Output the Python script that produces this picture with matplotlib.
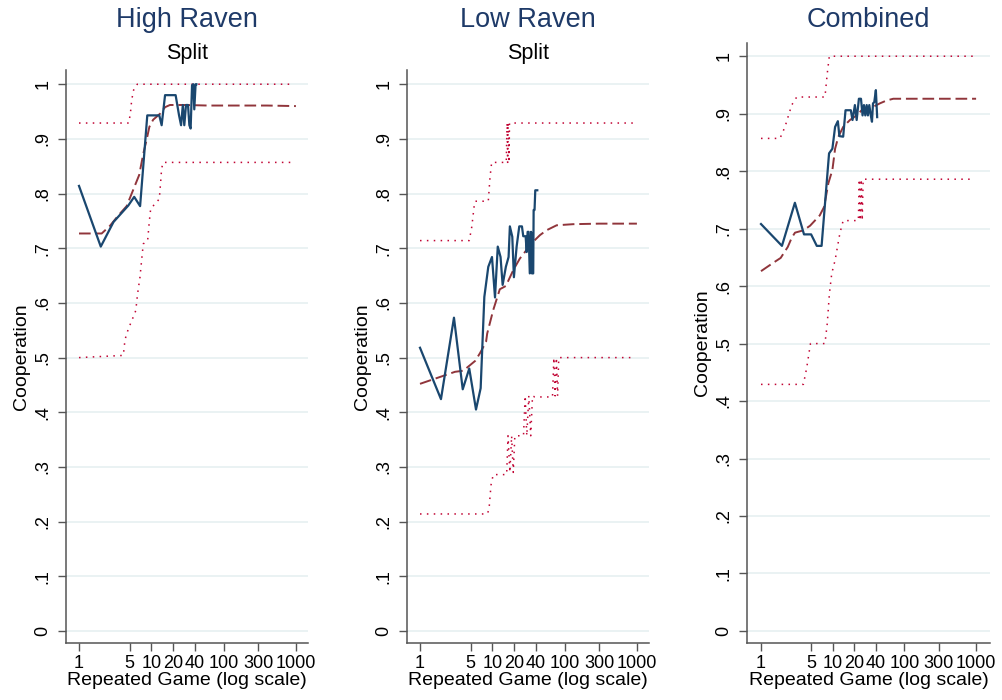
import numpy as np
import matplotlib.pyplot as plt

plt.rcParams['font.family'] = ['Liberation Sans', 'DejaVu Sans']

# ---- data ----
xticks = [1, 5, 10, 20, 40, 100, 300, 1000]
xtick_labels = ['1', '5', '10', '20', '40', '100', '300', '1000']
yticks = [0, .1, .2, .3, .4, .5, .6, .7, .8, .9, 1]
ytick_labels = ['0', '.1', '.2', '.3', '.4', '.5', '.6', '.7', '.8', '.9', '1']

# High Raven
hr_obs_x = [1, 2, 3, 4.8, 5.8, 7, 8.8, 12.9, 13.9, 15.5, 21.7, 24.2, 25.8, 27.3,
            28.6, 30.2, 32.2, 33.6, 35, 36.6, 38.1, 39.3, 41, 42]
hr_obs_y = [0.814, 0.703, 0.748, 0.778, 0.794, 0.777, 0.943, 0.943, 0.925, 0.980,
            0.980, 0.943, 0.925, 0.962, 0.925, 0.962, 0.962, 0.925, 0.919, 0.998,
            1.0, 0.954, 1.0, 1.0]
hr_fit_x = [1, 1.6, 2.06, 2.68, 3.5, 4.56, 5.95, 6.8, 7.75, 8.6, 9.4, 10.6, 13.2,
            15.5, 18.1, 30, 60, 150, 400, 1000]
hr_fit_y = [0.727, 0.727, 0.727, 0.741, 0.76, 0.777, 0.815, 0.834, 0.873, 0.898,
            0.922, 0.935, 0.946, 0.958, 0.962, 0.962, 0.961, 0.961, 0.961, 0.960]
hr_hi_x = [1, 4.9, 5.2, 5.35, 5.75, 6.4, 950]
hr_hi_y = [0.929, 0.929, 0.953, 0.971, 0.992, 1.0, 1.0]
hr_lo_x = [1, 4.1, 4.33, 4.8, 5.5, 6.1, 6.45, 6.97, 7.5, 7.75, 8.9, 9.4, 9.8, 11.2,
           12.9, 13.5, 13.9, 14.6, 950]
hr_lo_y = [0.5, 0.504, 0.533, 0.552, 0.571, 0.586, 0.616, 0.647, 0.690, 0.708,
           0.714, 0.75, 0.772, 0.781, 0.790, 0.823, 0.846, 0.857, 0.857]

# Low Raven
lr_obs_x = [1, 1.95, 2.95, 3.9, 4.8, 5.95, 6.9, 7.76, 8.8, 9.9, 10.9, 11.9, 13.0,
            13.9, 15.4, 16.8, 17.5, 18.9, 19.9, 21.7, 23.6, 25.7, 26.8, 28.9, 29.9,
            30.8, 31.8, 33, 34.4, 35.3, 36.8, 37.3, 38.4, 39.3, 41.9]
lr_obs_y = [0.518, 0.424, 0.573, 0.442, 0.480, 0.405, 0.444, 0.611, 0.666, 0.684,
            0.610, 0.703, 0.684, 0.633, 0.666, 0.684, 0.740, 0.721, 0.647, 0.703,
            0.740, 0.740, 0.722, 0.722, 0.693, 0.730, 0.730, 0.654, 0.730, 0.654,
            0.654, 0.770, 0.770, 0.806, 0.806]
lr_fit_x = [1, 3.05, 3.97, 5.8, 6.75, 8.2, 8.5, 10.3, 12.7, 15.4, 19.5, 24, 29.8,
            36.8, 45.6, 56.5, 77.6, 131, 300, 1000]
lr_fit_y = [0.452, 0.474, 0.476, 0.494, 0.508, 0.529, 0.544, 0.587, 0.625, 0.631,
            0.660, 0.681, 0.697, 0.712, 0.724, 0.733, 0.742, 0.744, 0.745, 0.745]
lr_hi_x = [1, 4.8, 5.2, 5.6, 5.8, 8.8, 9.3, 9.8, 15.6, 16.0, 16.3, 16.6, 17.0,
           17.3, 950]
lr_hi_y = [0.714, 0.714, 0.739, 0.776, 0.786, 0.786, 0.83, 0.857, 0.857, 0.929,
           0.857, 0.929, 0.857, 0.929, 0.929]
lr_lo_x = [1, 8.5, 9.0, 9.3, 9.6, 10.3, 15.8, 16.5, 17.5, 18.5, 19.5, 20.5, 21.5,
           27, 28.5, 30, 32, 34, 36, 38.7, 68, 71, 74, 77, 80, 83, 950]
lr_lo_y = [0.214, 0.214, 0.222, 0.245, 0.267, 0.286, 0.286, 0.357, 0.29, 0.357,
           0.29, 0.357, 0.357, 0.357, 0.43, 0.357, 0.43, 0.357, 0.43, 0.428, 0.428,
           0.5, 0.43, 0.5, 0.43, 0.5, 0.5]

# Combined
cb_obs_x = [1, 1.96, 2.97, 3.98, 5.0, 6.0, 7.0, 8.9, 9.9, 10.8, 11.8, 12.4, 14.0,
            15.1, 17.9, 18.9, 20.4, 21.6, 23.2, 24.8, 26.1, 27.3, 28.5, 29.8, 31,
            32.4, 34, 35.3, 36.5, 38, 40, 41.7]
cb_obs_y = [0.708, 0.670, 0.745, 0.690, 0.690, 0.670, 0.670, 0.831, 0.839, 0.877,
            0.887, 0.861, 0.860, 0.906, 0.906, 0.889, 0.915, 0.889, 0.926, 0.926,
            0.897, 0.915, 0.897, 0.915, 0.897, 0.915, 0.897, 0.886, 0.918, 0.92,
            0.941, 0.894]
cb_fit_x = [1, 1.46, 1.88, 2.36, 2.68, 2.98, 3.9, 4.83, 6.6, 7.6, 8.7, 9.9, 10.8,
            12.0, 14.0, 17.4, 21.6, 26.7, 36.8, 45.6, 56.5, 70, 150, 400, 1000]
cb_fit_y = [0.626, 0.640, 0.649, 0.668, 0.684, 0.693, 0.697, 0.705, 0.723, 0.738,
            0.779, 0.802, 0.839, 0.860, 0.877, 0.889, 0.897, 0.909, 0.912, 0.918,
            0.923, 0.926, 0.926, 0.926, 0.926]
cb_hi_x = [1, 1.84, 2.16, 2.68, 3.15, 7.8, 8.4, 8.97, 950]
cb_hi_y = [0.857, 0.857, 0.877, 0.915, 0.929, 0.929, 0.97, 1.0, 1.0]
cb_lo_x = [1, 3.9, 4.33, 4.9, 7.8, 8.4, 9.0, 9.7, 10.8, 12.6, 14.0, 22.8, 23.5,
           24.2, 25, 25.8, 26.6, 27.5, 950]
cb_lo_y = [0.429, 0.429, 0.457, 0.5, 0.5, 0.535, 0.587, 0.622, 0.645, 0.692, 0.714,
           0.714, 0.786, 0.714, 0.786, 0.714, 0.786, 0.786, 0.786]

W, H = 1003, 700
NAVY = '#1a476f'
MAROON = '#90353b'
CRAN = '#c10534'
TITLE_C = '#1e3a68'

fig = plt.figure(figsize=(W / 100, H / 100), dpi=100)


def make_axes(left, right, top, bottom, ylo, yhi, xlo, xhi):
    ax = fig.add_axes([left / W, 1 - bottom / H, (right - left) / W, (bottom - top) / H])
    ax.set_xscale('log')
    ax.set_xlim(xlo, xhi)
    ax.set_ylim(ylo, yhi)
    for s in ['top', 'right']:
        ax.spines[s].set_visible(False)
    for s in ['left', 'bottom']:
        ax.spines[s].set_color('#555555')
        ax.spines[s].set_linewidth(1.1)
    ax.set_xticks(xticks, xtick_labels, fontsize=13)
    ax.xaxis.set_minor_locator(plt.NullLocator())
    ax.set_yticks(yticks, ytick_labels, fontsize=13, rotation=90, va='center')
    ax.tick_params(length=5.5, width=1, color='#555555', pad=3)
    ax.tick_params(axis='y', pad=5)
    ax.grid(axis='y', color='#eaf2f3', lw=1.4)
    ax.set_axisbelow(True)
    ax.set_xlabel('Repeated Game (log scale)', fontsize=14, labelpad=0)
    ax.set_ylabel('Cooperation', fontsize=14, labelpad=3)
    return ax


def draw(ax, ox, oy, fx, fy, hx, hy, lx, ly):
    ax.plot(hx, hy, color=CRAN, lw=1.1, ls=(0, (1, 3.5)))
    ax.plot(lx, ly, color=CRAN, lw=1.1, ls=(0, (1, 3.5)))
    ax.plot(fx, fy, color=MAROON, lw=1.4, ls=(0, (6, 2.5)))
    ax.plot(ox, oy, color=NAVY, lw=1.6)


ax1 = make_axes(66, 308, 70, 643, -0.022, 1.026, 0.661, 1470)
draw(ax1, hr_obs_x, hr_obs_y, hr_fit_x, hr_fit_y, hr_hi_x, hr_hi_y, hr_lo_x, hr_lo_y)

ax2 = make_axes(407, 649, 70, 643, -0.022, 1.026, 0.661, 1470)
draw(ax2, lr_obs_x, lr_obs_y, lr_fit_x, lr_fit_y, lr_hi_x, lr_hi_y, lr_lo_x, lr_lo_y)

ax3 = make_axes(747, 990, 43, 643, -0.021, 1.023, 0.638, 1563)
draw(ax3, cb_obs_x, cb_obs_y, cb_fit_x, cb_fit_y, cb_hi_x, cb_hi_y, cb_lo_x, cb_lo_y)

# titles
fig.text(187 / W, 1 - 20 / H, 'High Raven', fontsize=19.5, color=TITLE_C, ha='center', va='center')
fig.text(187 / W, 1 - 53 / H, 'Split', fontsize=15.5, ha='center', va='center')
fig.text(528 / W, 1 - 20 / H, 'Low Raven', fontsize=19.5, color=TITLE_C, ha='center', va='center')
fig.text(528 / W, 1 - 53 / H, 'Split', fontsize=15.5, ha='center', va='center')
fig.text(868 / W, 1 - 20 / H, 'Combined', fontsize=19.5, color=TITLE_C, ha='center', va='center')

fig.savefig('out.png', dpi=100)
